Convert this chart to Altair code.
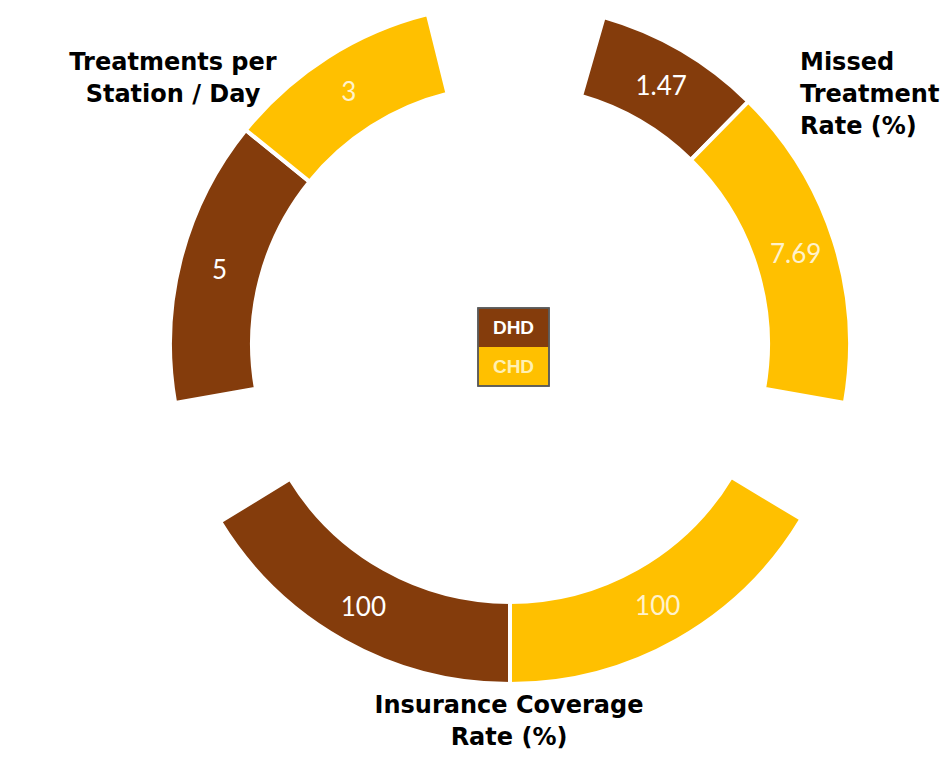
import math
import altair as alt
import pandas as pd

# ---- data ----
groups = ["Missed Treatment Rate (%)", "Insurance Coverage Rate (%)", "Treatments per Station / Day"]
group_titles = [["Missed", "Treatment", "Rate (%)"],
                ["Insurance Coverage", "Rate (%)"],
                ["Treatments per", "Station / Day"]]
series_names = ["DHD", "CHD"]
dhd_values = [1.47, 100, 5]
chd_values = [7.69, 100, 3]
# angular size (degrees) of each segment as drawn (not proportional to values)
dhd_spans = [28.5, 58.5, 49.0]
chd_spans = [55.5, 59.0, 37.0]
# clockwise order of the series inside each group
group_order = [["DHD", "CHD"], ["CHD", "DHD"], ["DHD", "CHD"]]
# empty angle (degrees) before each group, going clockwise from 12 o'clock
gaps_before = [16.0, 21.0, 21.5]

BROWN = "#843C0C"
YELLOW = "#FFC000"

rows = []
angle = 0.0
for i, g in enumerate(groups):
    angle += gaps_before[i]
    for s in group_order[i]:
        if s == "DHD":
            v, span = dhd_values[i], dhd_spans[i]
        else:
            v, span = chd_values[i], chd_spans[i]
        rows.append({"group": g, "series": s, "value": v, "label": f"{v:g}",
                     "start": angle, "end": angle + span, "mid": angle + span / 2})
        angle += span
df = pd.DataFrame(rows)

W, H = 935, 744
CX, CY = 502, 336

theta_scale = alt.Scale(domain=[0, 360], range=[0, 2 * math.pi])
color_scale = alt.Scale(domain=series_names, range=[BROWN, YELLOW])

arcs = alt.Chart(df).mark_arc(radius=340, radius2=258, stroke="white", strokeWidth=4).encode(
    theta=alt.Theta("start:Q", scale=theta_scale),
    theta2="end:Q",
    color=alt.Color("series:N", scale=color_scale, legend=None),
    x=alt.value(CX), y=alt.value(CY),
)

labels = alt.Chart(df).mark_text(radius=300, font="Lato", fontSize=26,
                                 align="center", baseline="middle").encode(
    theta=alt.Theta("mid:Q", scale=theta_scale),
    text="label:N",
    color=alt.condition(alt.datum.series == "DHD", alt.value("#FFFFFF"), alt.value("#FFF2CC")),
    x=alt.value(CX), y=alt.value(CY + 2),
)

# group titles (y is the centre of the first line)
title_layout = [  # (x, y, align)
    (792, 55, "left"),
    (501, 698, "center"),
    (165, 55, "center"),
]
title_layers = []
for lines, (tx, ty, al) in zip(group_titles, title_layout):
    title_layers.append(
        alt.Chart(pd.DataFrame({"group": [" ".join(lines)]})).mark_text(
            font="DejaVu Sans", fontWeight="bold", fontSize=24, lineHeight=32,
            align=al, baseline="middle", color="#000000",
        ).encode(x=alt.value(tx), y=alt.value(ty), text=alt.value(lines))
    )

# centre legend
legend_df = pd.DataFrame({"series": series_names})
LX0, LX1, LY0, LY1 = 470, 541, 300, 378
leg_y = alt.Y("series:N", scale=alt.Scale(domain=series_names, range=[LY0, LY1],
                                          paddingInner=0, paddingOuter=0), axis=None)
leg_cells = alt.Chart(legend_df).mark_rect().encode(
    x=alt.value(LX0), x2=alt.value(LX1), y=leg_y,
    color=alt.Color("series:N", scale=color_scale, legend=None),
)
leg_text = alt.Chart(legend_df).mark_text(font="Liberation Sans", fontWeight="bold", fontSize=19,
                                          align="center", baseline="middle").encode(
    x=alt.value((LX0 + LX1) / 2), y=leg_y, text="series:N",
    color=alt.condition(alt.datum.series == "DHD", alt.value("#FFFFFF"), alt.value("#FFF0B3")),
)
leg_frame = alt.Chart(legend_df).mark_rect(fill=None, stroke="#595959", strokeWidth=1.5).encode(
    x=alt.value(LX0), x2=alt.value(LX1), y=alt.value(LY0), y2=alt.value(LY1),
)

chart = alt.layer(arcs, labels, *title_layers, leg_cells, leg_text, leg_frame).properties(
    width=W, height=H, padding=0, autosize=alt.AutoSizeParams(type="none"),
    background="white",
).configure_view(stroke=None)

chart.save("out.html", embed_options={"renderer": "svg", "actions": False})
